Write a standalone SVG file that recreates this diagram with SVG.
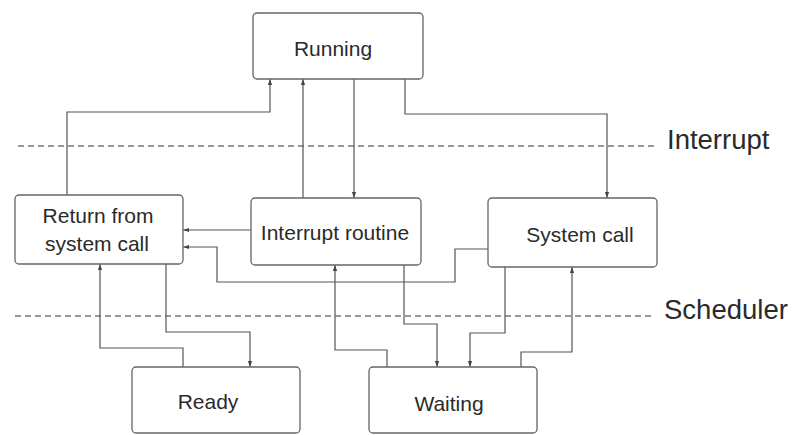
<svg xmlns="http://www.w3.org/2000/svg" width="792" height="435" viewBox="0 0 792 435">
<style>
.box{fill:#fff;stroke:#666;stroke-width:1.3}
.t{font-family:"Liberation Sans",Arial,sans-serif;font-size:21px;fill:#2a2a2a;text-anchor:middle}
.lbl{font-family:"Liberation Sans",Arial,sans-serif;fill:#2a2a2a}
.c{fill:none;stroke:#555;stroke-width:1.2}
.d{fill:none;stroke:#777;stroke-width:1.3;stroke-dasharray:6 4}
</style>
<defs>
<marker id="a" viewBox="0 0 10 10" refX="10" refY="5" markerWidth="6" markerHeight="6" orient="auto-start-reverse" markerUnits="userSpaceOnUse">
<path d="M0,1.5 L10,5 L0,8.5 z" fill="#444"/>
</marker>
</defs>
<rect width="792" height="435" fill="#fff"/>
<g id="lines">
<line class="d" x1="18" y1="146" x2="658" y2="146"/>
<line class="d" x1="15" y1="316" x2="653" y2="316"/>
<text class="lbl" x="667" y="149" font-size="27.5">Interrupt</text>
<text class="lbl" x="664" y="319" font-size="27.5">Scheduler</text>
</g>
<g id="connectors">
<polyline class="c" points="67,195 67,112 270,112 270,79" marker-end="url(#a)"/>
<polyline class="c" points="303,198 303,79" marker-end="url(#a)"/>
<polyline class="c" points="354,79 354,198" marker-end="url(#a)"/>
<polyline class="c" points="405,79 405,114 607,114 607,198" marker-end="url(#a)"/>
<polyline class="c" points="251,230 183,230" marker-end="url(#a)"/>
<polyline class="c" points="488,249 455,249 455,282 217,282 217,247 183,247" marker-end="url(#a)"/>
<polyline class="c" points="183,367 183,348 100,348 100,264" marker-end="url(#a)"/>
<polyline class="c" points="166,264 166,332 250,332 250,367" marker-end="url(#a)"/>
<polyline class="c" points="387,367 387,350 335,350 335,265" marker-end="url(#a)"/>
<polyline class="c" points="404,265 404,324 437,324 437,367" marker-end="url(#a)"/>
<polyline class="c" points="505,267 505,333 470,333 470,367" marker-end="url(#a)"/>
<polyline class="c" points="521,367 521,352 572,352 572,267" marker-end="url(#a)"/>
</g>
<g id="running">
<rect class="box" x="253" y="13" width="170" height="66" rx="4"/>
<text class="t" x="333" y="56">Running</text>
</g>
<g id="return">
<rect class="box" x="15" y="195" width="168" height="69" rx="4"/>
<text class="t" x="98" y="223">Return from</text>
<text class="t" x="97" y="251">system call</text>
</g>
<g id="interrupt">
<rect class="box" x="251" y="198" width="170" height="67" rx="4"/>
<text class="t" x="335" y="240">Interrupt routine</text>
</g>
<g id="syscall">
<rect class="box" x="488" y="198" width="169" height="69" rx="4"/>
<text class="t" x="580" y="242">System call</text>
</g>
<g id="ready">
<rect class="box" x="132" y="367" width="168" height="66" rx="4"/>
<text class="t" x="208" y="409">Ready</text>
</g>
<g id="waiting">
<rect class="box" x="369" y="367" width="168" height="66" rx="4"/>
<text class="t" x="449" y="411">Waiting</text>
</g>
</svg>
